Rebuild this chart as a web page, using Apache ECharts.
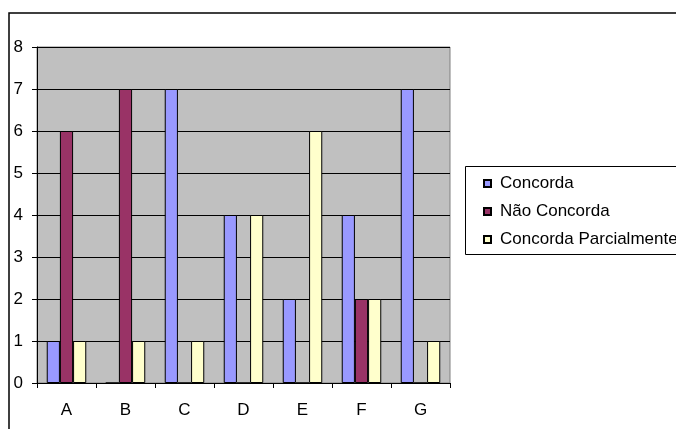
<!DOCTYPE html>
<html>
<head>
<meta charset="utf-8">
<script src="https://cdn.jsdelivr.net/npm/echarts@6/dist/echarts.min.js"></script>
<style>html,body{margin:0;padding:0;background:#fff;}#c{width:676px;height:429px;}</style>
</head>
<body>
<div id="c"></div>
<script>
const categories = ['A', 'B', 'C', 'D', 'E', 'F', 'G'];
const concorda = [1, 0, 7, 4, 2, 4, 7];
const naoConcorda = [6, 7, 0, 0, 0, 2, 0];
const concordaParcialmente = [1, 1, 1, 4, 6, 2, 1];
const seriesNames = ['Concorda', 'Não Concorda', 'Concorda Parcialmente'];
const yTicks = [0, 1, 2, 3, 4, 5, 6, 7, 8];

const FONT = 'Liberation Sans, Arial, sans-serif';
const chart = echarts.init(document.getElementById('c'), null, {renderer: 'canvas'});
const mk = (name, data, color) => ({
  name, type: 'bar', data,
  barGap: '0%', barCategoryGap: '33%',
  itemStyle: {color, borderColor: '#000', borderWidth: 1},
  emphasis: {disabled: true}
});
chart.setOption({
  animation: false,
  textStyle: {fontFamily: FONT},
  graphic: [
    {type: 'rect', shape: {x: 9, y: 13, width: 800, height: 600}, style: {fill: null, stroke: '#000', lineWidth: 1.5}, z: 0, silent: true},
    {type: 'rect', shape: {x: 465.5, y: 166.5, width: 400, height: 88}, style: {fill: '#fff', stroke: '#000', lineWidth: 1}, z: 0, silent: true}
  ],
  grid: {left: 37, right: 226, top: 47, bottom: 46, show: true, backgroundColor: '#C0C0C0', borderColor: '#808080', borderWidth: 1},
  legend: {
    orient: 'vertical', left: 478, top: 170, itemWidth: 7, itemHeight: 7, itemGap: 11,
    icon: 'rect',
    textStyle: {fontSize: 17, color: '#000', fontFamily: FONT, lineHeight: 17, padding: [0, 0, 0, 4]},
    data: seriesNames
  },
  xAxis: {
    type: 'category', data: categories,
    axisLine: {lineStyle: {color: '#000', width: 1}},
    axisTick: {show: true, length: 5, lineStyle: {color: '#000'}},
    axisLabel: {fontSize: 17, color: '#000', margin: 19, fontFamily: FONT}
  },
  yAxis: {
    type: 'value', min: yTicks[0], max: yTicks[yTicks.length - 1], interval: 1,
    axisLine: {show: true, lineStyle: {color: '#000', width: 1}},
    axisTick: {show: true, length: 5, lineStyle: {color: '#000'}},
    axisLabel: {fontSize: 17, color: '#000', margin: 14, fontFamily: FONT},
    splitLine: {show: true, lineStyle: {color: '#000', width: 1}}
  },
  series: [
    mk(seriesNames[0], concorda, '#9999FF'),
    mk(seriesNames[1], naoConcorda, '#993366'),
    mk(seriesNames[2], concordaParcialmente, '#FFFFCC')
  ]
});
</script>
</body>
</html>
